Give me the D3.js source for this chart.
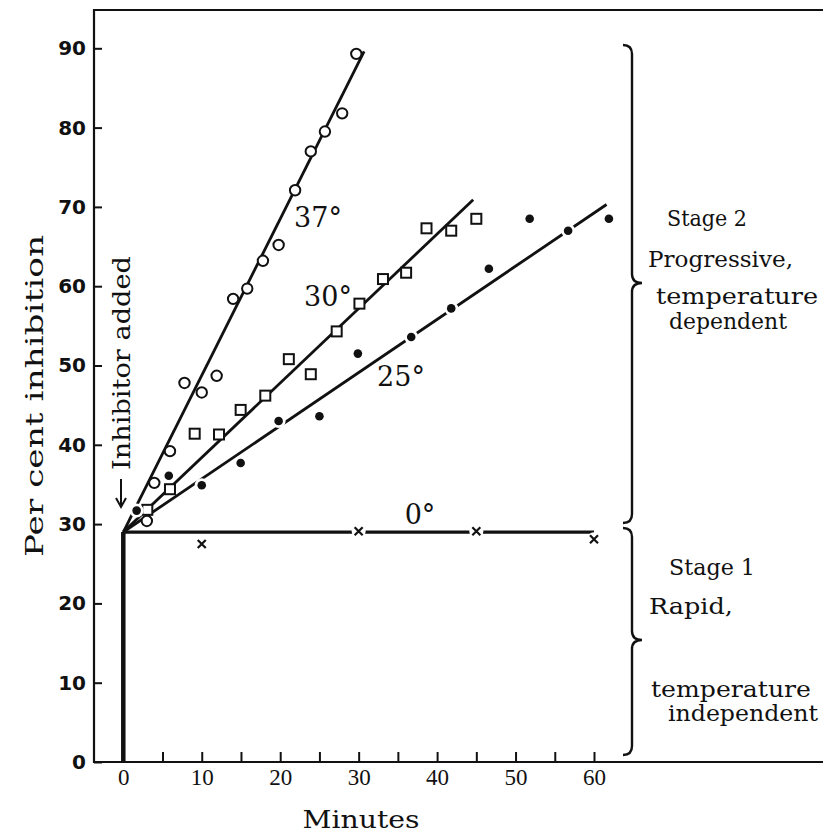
<!DOCTYPE html>
<meta charset="utf-8">
<style>
  body { margin: 0; background: #fff; }
  svg { display: block; }
  text { font-family: "DejaVu Serif", serif; fill: #111; }
  .ytick text { font-family: "DejaVu Sans", sans-serif; font-weight: bold; font-size: 20px; }
  .xtick text { font-family: "Liberation Serif", serif; font-size: 23px; }
</style>
<body>
<svg width="823" height="834"></svg>
<script src="https://d3js.org/d3.v7.min.js"></script>
<script>

// 37 degrees, open circles
var t37 = [3.0, 3.95, 5.95, 7.8, 10.0, 11.9, 14.0, 15.8, 17.8, 19.8, 21.9, 23.9, 25.7, 27.9, 29.7];
var v37 = [30.4, 35.2, 39.2, 47.8, 46.6, 48.7, 58.4, 59.7, 63.2, 65.2, 72.1, 77.0, 79.5, 81.8, 89.3];
// 30 degrees, open squares
var t30 = [3.06, 5.95, 9.1, 12.2, 14.96, 18.1, 21.1, 23.9, 27.2, 30.1, 33.1, 36.05, 38.65, 41.8, 45.0];
var v30 = [31.8, 34.4, 41.4, 41.3, 44.4, 46.2, 50.8, 48.9, 54.3, 57.8, 60.9, 61.7, 67.3, 67.0, 68.5];
// 25 degrees, filled dots
var t25 = [1.7, 5.8, 10.0, 14.96, 19.8, 25.0, 29.9, 36.7, 41.8, 46.6, 51.8, 56.7, 61.9];
var v25 = [31.7, 36.1, 34.9, 37.7, 43.0, 43.6, 51.5, 53.6, 57.2, 62.2, 68.5, 67.0, 68.5];
// 0 degrees, crosses
var t0 = [10, 30, 45, 60];
var v0 = [27.5, 29.1, 29.1, 28.1];

// fitted lines (start, end)
var fit37 = [[0, 29], [30.7, 89.6]];
var fit30 = [[0, 29], [44.6, 70.9]];
var fit25 = [[0, 29], [61.6, 70.3]];
var fit0 = [[0, 29], [60, 29]];
var rapid = [[0, 0], [0, 29]];

var yTicks = [0, 10, 20, 30, 40, 50, 60, 70, 80, 90];
var xTicks = [5, 10, 15, 20, 25, 30, 35, 40, 45, 50, 55, 60];
var xLabels = [0, 10, 20, 30, 40, 50, 60];

const svg = d3.select('svg'),
      width = +svg.attr('width');

const x = d3.scaleLinear().domain([0, 60]).range([123.3, 594]);
const y = d3.scaleLinear().domain([0, 90]).range([762, 48.3]);
const frameLeft = 94, frameTop = 10, frameBottom = 762;

// frame
svg.append('path')
  .attr('d', `M${width},${frameTop}H${frameLeft}V${frameBottom}H${width}`)
  .attr('fill', 'none').attr('stroke', '#111').attr('stroke-width', 2.2);

// y axis, ticks inward
svg.append('g')
  .attr('class', 'ytick')
  .attr('transform', `translate(${frameLeft},0)`)
  .call(d3.axisLeft(y).tickValues(yTicks).tickSize(-8).tickPadding(8).tickFormat(d3.format('d')))
  .call(g => g.select('.domain').remove())
  .call(g => g.selectAll('line').attr('stroke', '#111').attr('stroke-width', 2))
  .call(g => g.selectAll('text').attr('fill', '#111'));

// x axis, ticks upward
svg.append('g')
  .attr('class', 'xtick')
  .attr('transform', `translate(0,${frameBottom})`)
  .call(d3.axisBottom(x).tickValues(xTicks).tickSize(-10).tickFormat(() => ''))
  .call(g => g.select('.domain').remove())
  .call(g => g.selectAll('line').attr('stroke', '#111').attr('stroke-width', 2));

svg.append('g')
  .attr('class', 'xtick')
  .attr('transform', `translate(0,${frameBottom})`)
  .call(d3.axisBottom(x).tickValues(xLabels).tickSize(0).tickPadding(7).tickFormat(d3.format('d')))
  .call(g => g.select('.domain').remove())
  .call(g => g.selectAll('text').attr('fill', '#111'));

// axis titles
svg.append('text')
  .attr('transform', 'translate(43,396) rotate(-90)')
  .attr('text-anchor', 'middle')
  .attr('font-size', 24)
  .attr('textLength', 322).attr('lengthAdjust', 'spacingAndGlyphs')
  .text('Per cent inhibition');

svg.append('text')
  .attr('x', 361).attr('y', 828)
  .attr('text-anchor', 'middle')
  .attr('font-size', 25)
  .attr('textLength', 117).attr('lengthAdjust', 'spacingAndGlyphs')
  .text('Minutes');

// inhibitor added
svg.append('text')
  .attr('transform', 'translate(130,470) rotate(-90)')
  .attr('font-size', 25)
  .attr('textLength', 214).attr('lengthAdjust', 'spacingAndGlyphs')
  .text('Inhibitor added');
svg.append('path')
  .attr('d', 'M121,479V506M116,498L121,507L126,498')
  .attr('fill', 'none').attr('stroke', '#111').attr('stroke-width', 2);

const line = d3.line().x(d => x(d[0])).y(d => y(d[1]));

svg.append('path').attr('d', line(rapid))
  .attr('stroke', '#111').attr('stroke-width', 4.5).attr('fill', 'none');

[fit37, fit30, fit25].forEach(f => {
  svg.append('path').attr('d', line(f))
    .attr('stroke', '#111').attr('stroke-width', 2.8).attr('fill', 'none');
});
svg.append('path').attr('d', line(fit0))
  .attr('stroke', '#111').attr('stroke-width', 3.2).attr('fill', 'none');

// 37 circles
svg.append('g').selectAll('circle')
  .data(t37.map((t, i) => [t, v37[i]]))
  .enter().append('circle')
  .attr('cx', d => x(d[0])).attr('cy', d => y(d[1])).attr('r', 5.2)
  .attr('fill', '#fff').attr('stroke', '#111').attr('stroke-width', 2);

// 30 squares
svg.append('g').selectAll('rect')
  .data(t30.map((t, i) => [t, v30[i]]))
  .enter().append('rect')
  .attr('x', d => x(d[0]) - 5).attr('y', d => y(d[1]) - 5)
  .attr('width', 10).attr('height', 10)
  .attr('fill', '#fff').attr('stroke', '#111').attr('stroke-width', 2);

// 25 dots, with a small white gap around them
const dots = svg.append('g').selectAll('g')
  .data(t25.map((t, i) => [t, v25[i]]))
  .enter().append('g')
  .attr('transform', d => `translate(${x(d[0])},${y(d[1])})`);
dots.append('circle').attr('r', 7).attr('fill', '#fff');
dots.append('circle').attr('r', 4.3).attr('fill', '#111');

// 0 crosses
const cross = svg.append('g').selectAll('g')
  .data(t0.map((t, i) => [t, v0[i]]))
  .enter().append('g')
  .attr('transform', d => `translate(${x(d[0])},${y(d[1])})`);
cross.append('circle').attr('r', 7).attr('fill', '#fff');
cross.append('path').attr('d', 'M-4,-4L4,4M-4,4L4,-4')
  .attr('stroke', '#111').attr('stroke-width', 2.2);

// temperature labels
var tempLabels = [['37°', 318, 227], ['30°', 328, 306], ['25°', 401, 386], ['0°', 420, 524]];
svg.append('g').selectAll('text')
  .data(tempLabels)
  .enter().append('text')
  .attr('x', d => d[1]).attr('y', d => d[2])
  .attr('text-anchor', 'middle')
  .attr('font-family', 'Liberation Serif, serif')
  .attr('font-size', 27)
  .text(d => d[0]);

// braces
function brace(bx, y0, y1, ym) {
  return `M${bx - 9},${y0}Q${bx},${y0} ${bx},${y0 + 9}` +
    `L${bx},${ym - 9}Q${bx},${ym} ${bx + 10},${ym}` +
    `Q${bx},${ym} ${bx},${ym + 9}L${bx},${y1 - 9}Q${bx},${y1} ${bx - 9},${y1}`;
}
svg.append('path').attr('d', brace(632, 45, 523, 283))
  .attr('fill', 'none').attr('stroke', '#111').attr('stroke-width', 2.4);
svg.append('path').attr('d', brace(632, 528, 755, 640))
  .attr('fill', 'none').attr('stroke', '#111').attr('stroke-width', 2.4);

// stage notes
var notes = [
  ['Stage 2', 667, 226, 80],
  ['Progressive,', 648, 267, 145],
  ['temperature', 656, 304, 162],
  ['dependent', 669, 329, 118],
  ['Stage 1', 669, 575, 86],
  ['Rapid,', 649, 614, 84],
  ['temperature', 651, 697, 160],
  ['independent', 668, 721, 150]
];
svg.append('g').selectAll('text')
  .data(notes)
  .enter().append('text')
  .attr('x', d => d[1]).attr('y', d => d[2])
  .attr('font-size', 22)
  .attr('textLength', d => d[3]).attr('lengthAdjust', 'spacingAndGlyphs')
  .text(d => d[0]);

</script>
</body>
